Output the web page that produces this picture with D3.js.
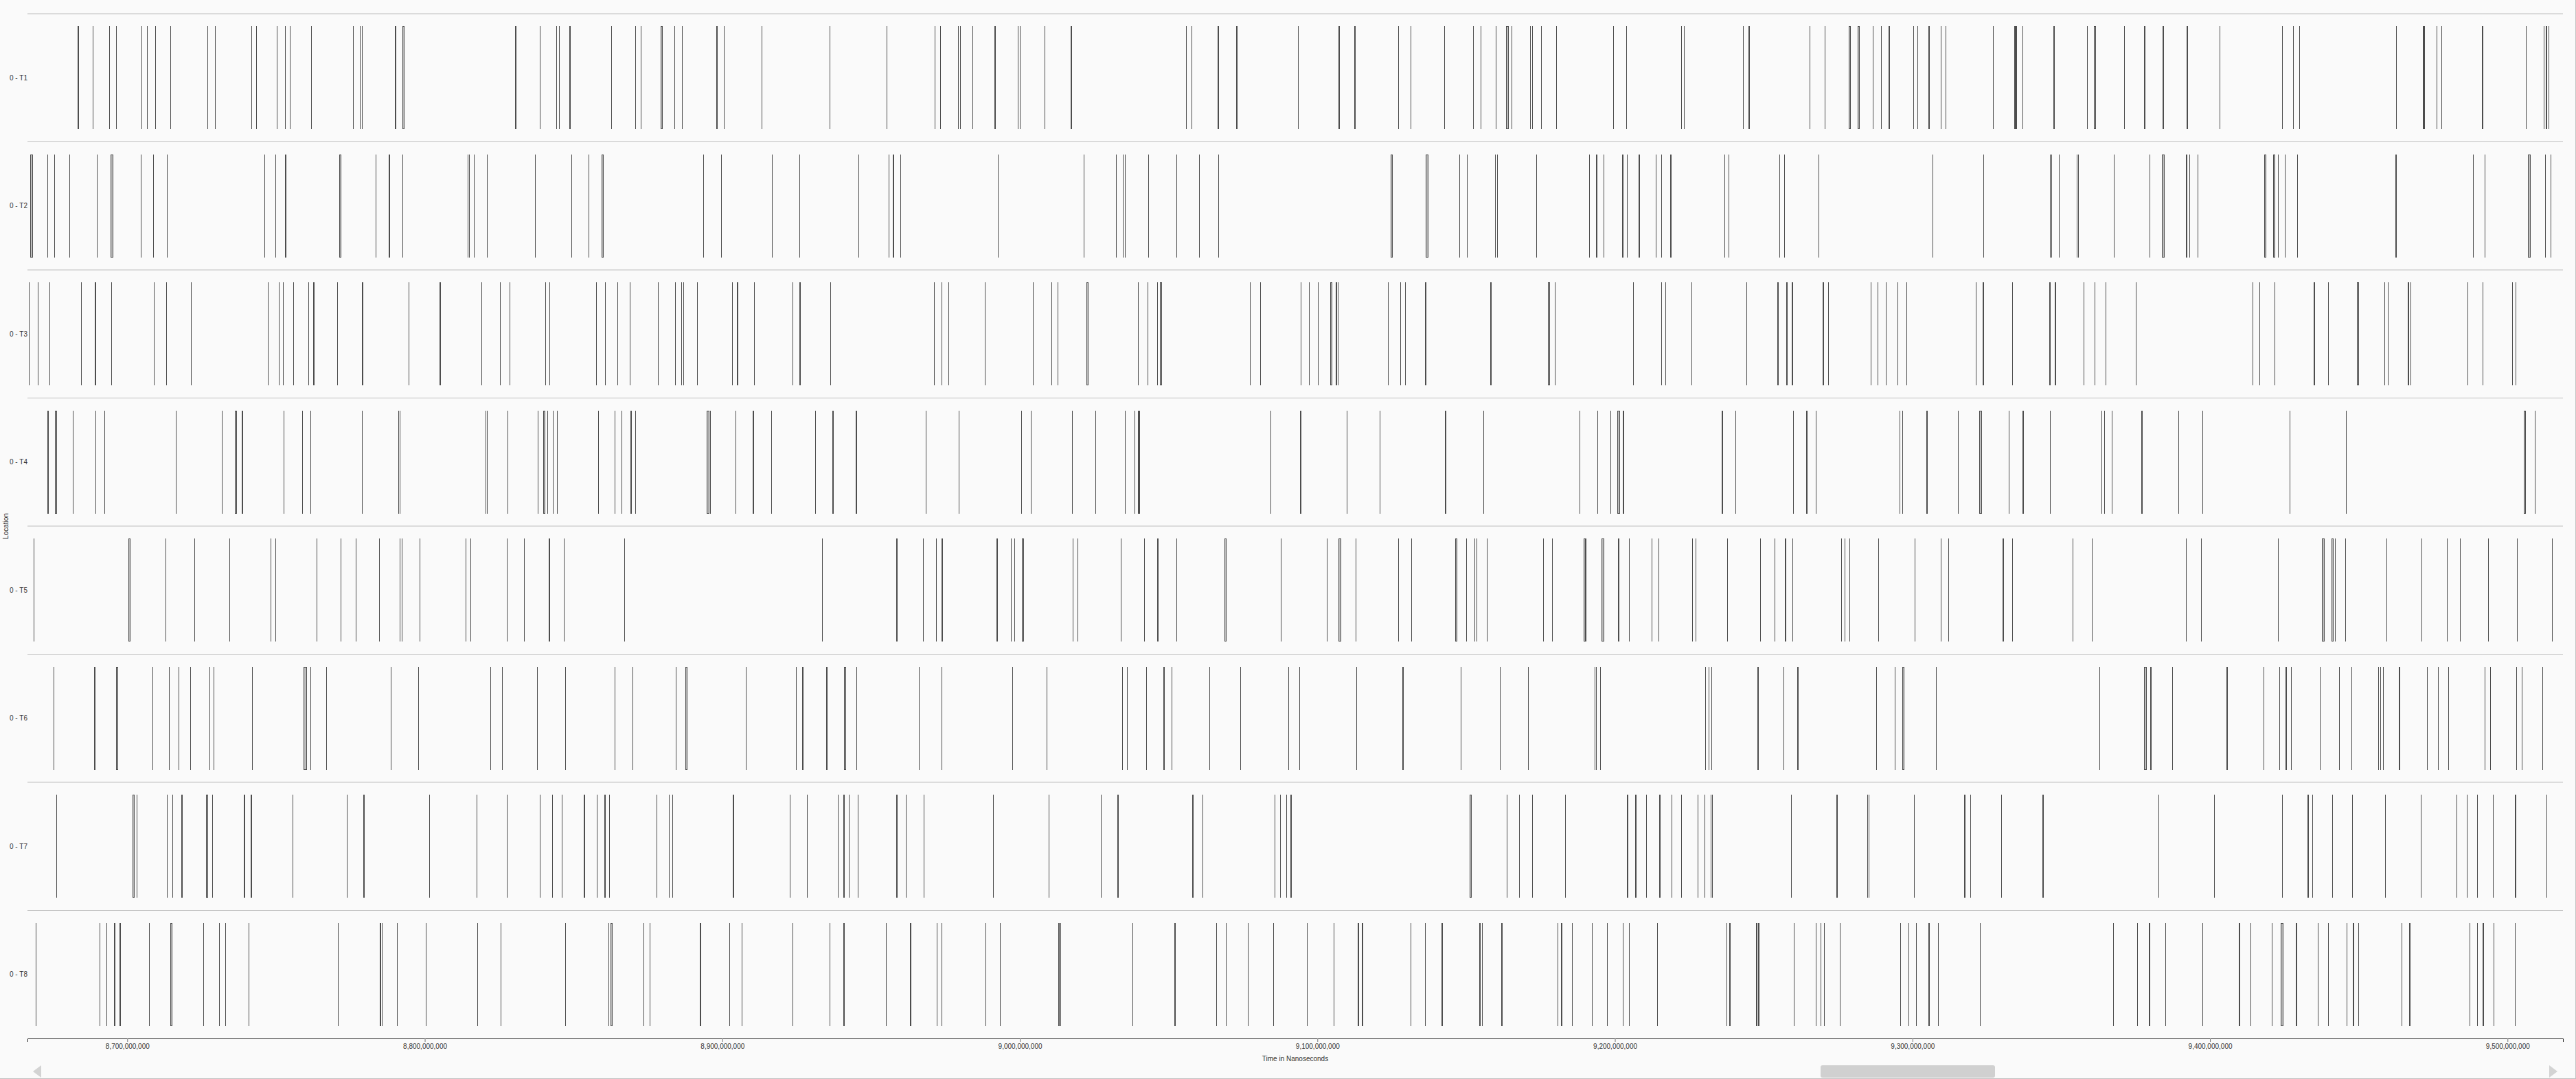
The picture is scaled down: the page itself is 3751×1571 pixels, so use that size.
<!DOCTYPE html>
<html>
<head>
<meta charset="utf-8">
<script src="https://cdn.jsdelivr.net/npm/d3@7"></script>
<style>
  html, body { margin: 0; padding: 0; background: #fafafa; }
  svg { display: block; }
  text { font-family: "Liberation Sans", Arial, sans-serif; }
</style>
</head>
<body>
<svg id="chart" width="3751" height="1571"></svg>
<script>
// Times are in millions of nanoseconds. An entry is either a start time,
// or [start, duration] for events with a visible duration.
const rowLabels = ["0 - T1", "0 - T2", "0 - T3", "0 - T4", "0 - T5", "0 - T6", "0 - T7", "0 - T8"];
const xDomain = [8666.46, 9518.63];
const tickValues = [8700, 8800, 8900, 9000, 9100, 9200, 9300, 9400, 9500];
const yTitle = "Location";
const xTitle = "Time in Nanoseconds";

const t1 = [[8683.4,0.25], 8688.5, 8694.0, 8696.4, 8704.9, 8706.7, 8709.5, 8714.5, 8727.0, 8729.6, 8741.9, 8743.4, 8750.4, 8753.1, 8754.8, 8762.0, 8776.0, 8778.3, 8779.0, [8790.1,0.25], [8792.7,0.25], [8830.5,0.25], 8838.8, 8844.3, 8845.3, [8848.7,0.25], 8862.8, 8870.9, 8872.6, [8879.5,0.25],
  8884.0, 8886.5, [8898.1,0.25], 8900.6, 8913.3, 8936.2, 8955.3, 8971.5, 8973.4, 8979.4, 8980.0, 8984.2, [8991.5,0.4], 8999.3, 9000.1, 9008.4, [9017.1,0.25], 9055.9, 9057.9, [9066.5,0.25], [9072.9,0.25], 9093.6,
  [9107.1,0.4], [9112.6,0.25], 9127.3, 9131.5, 9142.7, 9152.5, 9154.9, 9160.1, [9163.5,0.8], 9165.3, 9171.6, 9172.2, 9175.3, 9180.4, 9199.5, 9203.9, 9222.4, 9223.4, 9243.2, [9244.9,0.25], 9265.5, 9270.6, [9278.8,0.25], [9281.8,0.25], 9286.8, 9289.6, [9292.0,0.25], 9300.4, 9301.8, [9305.4,0.25], 9309.6,
  9311.2, 9327.1, [9334.4,0.25], 9334.9, 9337.2, [9347.4,0.25], 9358.9, [9361.2,0.25], 9371.2, [9377.9,0.25], [9384.1,0.25], [9392.3,0.25], 9403.4, 9424.3, 9428.0, 9430.2, 9462.6, [9471.7,0.25], 9472.2, 9476.3, 9477.8, 9491.4, 9491.8, 9506.3, 9512.2, [9513.0,0.25], 9514.0];

const t2 = [[8667.6,0.6], 8673.3, 8675.5, 8680.7, 8689.9, [8694.4,0.9], 8704.7, 8708.9, 8713.4, 8746.1, 8749.8, [8753.1,0.25], [8771.4,0.5], 8783.5, [8788.0,0.25], 8792.7, 8814.6, 8815.0, 8816.6, 8821.0, 8837.2, 8849.4, 8855.1, [8859.6,0.5],
  8893.7, 8899.7, 8916.7, 8926.0, 8945.9, 8956.0, [8957.4,0.25], 8960.0, 8992.7, 9021.6, 9032.4, 9034.7, 9035.5, 9043.2, 9052.8, 9060.3, 9066.8,
  [9124.8,0.5], [9136.6,0.5], 9147.8, 9150.4, 9159.9, 9160.5, 9173.7, 9191.5, [9193.7,0.25], 9196.3, [9202.6,0.25], 9204.1, [9208.0,0.25], 9213.8, 9215.7, [9218.7,0.25], 9236.9, 9238.3, 9255.4, 9257.1, 9268.5, 9306.9,
  9324.0, 9346.4, 9346.8, 9349.3, 9355.3, 9355.9, 9367.8, 9379.8, [9383.9,0.7], [9392.0,0.25], 9393.2, 9396.0, [9418.4,0.4], [9421.4,0.5], 9423.0, 9425.3, 9429.4, [9462.4,0.25], 9488.5, 9492.5, [9507.0,0.7], 9512.8, 9514.5];

const t3 = [8667.0, 8670.0, 8674.0, 8684.5, [8689.2,0.25], 8694.7, 8709.0, 8713.3, 8721.4, 8747.4, 8751.1, 8752.4, 8756.0, 8760.9, [8762.6,0.25], 8770.6, [8778.9,0.25], 8794.6, [8805.0,0.4], 8819.1, 8825.4, 8828.6, 8840.5, 8842.1, 8857.7, 8860.7, 8864.8, 8869.1, 8878.4,
  8884.3, 8886.3, 8887.1, 8891.7, 8903.4, [8904.9,0.25], 8910.7, 8923.6, [8925.9,0.25], 8936.4, 8971.3, 8973.9, 8976.1, 8988.3, 9004.5, 9010.8, 9012.8, [9022.5,0.5], 9039.8, 9043.1, 9046.2, [9047.3,0.25], 9077.4, 9080.9, 9094.6,
  9097.3, 9100.3, [9104.4,0.4], [9106.2,0.25], 9106.9, 9123.8, 9128.0, 9129.6, [9136.2,0.25], [9158.3,0.25], [9177.7,0.25], 9179.8, 9206.3, 9215.7, 9217.1, 9225.8, 9244.3, [9254.6,0.25], [9257.6,0.25], [9259.6,0.25], [9270.0,0.25], 9271.7, 9286.1, 9288.4, 9291.1, 9295.1, 9298.1,
  9321.4, [9323.8,0.25], 9333.6, [9346.0,0.25], [9347.9,0.25], 9357.6, 9361.3, 9365.0, 9375.2, 9414.5, 9416.7, 9421.9, [9434.9,0.25], 9439.8, [9449.6,0.25], 9458.7, 9459.9, [9466.5,0.25], 9467.6, 9486.6, 9491.7, 9501.7, 9502.9];

const t4 = [[8673.2,0.25], [8675.9,0.4], 8681.8, 8689.5, 8692.5, 8716.4, 8731.9, [8736.3,0.5], [8738.5,0.25], 8752.7, 8758.9, 8761.7, 8779.0, 8791.2, 8791.7, 8820.5, 8821.0, 8828.0, 8838.1, [8840.0,0.4], 8841.3, 8843.1, 8844.6, 8858.4, 8864.0, 8866.2, [8869.3,0.25], 8870.9,
  [8894.8,0.8], 8896.0, 8904.5, [8910.3,0.25], 8916.6, 8931.4, [8937.0,0.25], [8944.9,0.25], 8968.5, 8979.6, 9000.6, 9003.8, 9017.6, 9025.6, 9035.4, 9038.6, [9039.7,0.25], 9040.3, 9084.3, [9094.3,0.25],
  9110.0, 9121.0, [9143.0,0.25], 9155.9, 9188.2, 9194.2, 9198.6, [9200.8,0.8], [9202.8,0.25], [9236.0,0.25], 9240.6, 9260.1, [9264.4,0.25], 9267.6, 9295.8, 9296.6, [9304.8,0.25],
  9315.5, [9322.6,0.7], 9332.5, [9337.1,0.25], 9346.3, 9363.7, 9364.5, 9367.1, [9377.1,0.25], 9389.5, 9397.6, 9426.9, 9445.8, [9505.6,0.5], 9509.3];

const t5 = [8668.7, [8700.4,0.5], 8713.0, 8722.7, 8734.4, 8748.3, 8750.0, 8763.8, 8771.9, 8776.9, 8784.7, 8791.7, 8792.4, 8798.3, 8813.9, 8815.5, 8827.7, 8833.5, [8841.7,0.4], 8846.8, 8867.2,
  8933.6, [8958.5,0.25], 8967.5, 8971.9, [8973.8,0.25], [8992.2,0.25], 8997.1, 8998.2, [9000.9,0.25], 9017.9, 9019.5, 9034.0, 9041.8, [9046.2,0.4], 9052.7, [9069.0,0.25], 9087.8,
  9103.3, [9107.1,0.8], 9112.9, 9127.3, 9131.6, [9146.4,0.4], 9150.1, 9152.9, 9153.6, 9157.0, 9176.0, 9179.0, [9189.7,0.25], 9190.2, [9195.6,0.6], [9201.2,0.25], 9204.8, 9212.4, 9214.8, 9226.1, 9227.3, 9237.9, 9249.0, 9253.8, [9257.3,0.25], 9259.8, 9276.2, 9277.3, 9279.0, 9288.7, 9300.9, 9309.6,
  9312.2, [9330.3,0.25], 9333.7, 9354.0, 9360.4, 9392.0, 9397.1, 9423.0, [9437.7,0.7], [9440.9,0.5], 9442.0, 9445.5, 9459.4, 9471.1, 9479.8, 9484.1, 9493.6, 9503.3, 9515.1];

const t6 = [8675.4, [8688.9,0.25], [8696.3,0.4], 8708.6, 8714.1, 8717.4, 8721.2, 8727.8, 8729.2, 8742.0, [8759.4,0.9], 8761.7, 8766.9, 8788.7, 8797.9, 8822.1, 8826.1, 8837.9, 8847.3, 8863.9, 8869.9,
  8884.4, [8887.8,0.25], 8908.0, 8924.8, [8927.0,0.25], [8935.1,0.25], [8941.1,0.4], 8945.2, 8966.1, 8973.9, 8997.5, 9009.1, 9034.6, 9036.1, 9042.5, [9048.3,0.25], 9051.2, 9063.7, 9074.2, 9090.3, 9094.0,
  9113.3, [9128.6,0.25], 9148.2, 9161.5, 9170.9, 9193.4, 9193.8, 9195.2, 9230.5, 9231.7, 9232.5, [9247.9,0.25], 9256.8, [9261.4,0.25], 9287.9, 9294.2, [9296.8,0.25], 9308.0,
  9363.0, [9377.9,0.8], [9380.0,0.25], 9387.5, [9405.6,0.25], 9418.2, 9423.5, [9425.4,0.25], 9427.3, 9437.1, 9443.5, 9447.7, 9456.6, 9457.3, 9458.3, [9463.6,0.25], 9473.1, 9476.8, 9480.2, 9492.5, 9494.3, 9503.0, 9505.0, 9511.8];

const t7 = [8676.3, [8701.9,0.4], 8703.2, 8713.4, 8715.2, [8718.2,0.25], [8726.7,0.25], 8728.6, [8739.2,0.25], [8741.5,0.25], 8755.6, 8773.9, [8779.5,0.25], 8801.6, 8817.6, 8827.7, 8838.7, 8842.9, 8846.2, [8853.5,0.25], 8858.0, [8860.4,0.25], 8862.1, 8878.0,
  8882.2, 8883.3, [8903.7,0.25], 8922.7, 8928.5, 8938.9, [8940.8,0.25], 8942.6, 8945.6, [8958.6,0.25], 8961.8, 8967.8, 8991.1, 9009.8, 9027.3, [9032.8,0.4], [9058.1,0.25], 9061.6, 9085.8, 9087.6, 9089.6, [9091.0,0.25],
  [9151.4,0.25], 9163.7, 9167.9, 9172.3, 9183.4, [9204.2,0.25], [9206.9,0.25], 9210.6, [9215.0,0.25], 9219.1, 9222.4, 9227.9, 9230.2, 9232.3, 9232.7, 9259.2, [9274.6,0.25], 9285.0, 9285.5, 9300.6,
  [9317.5,0.25], 9319.5, 9329.9, [9343.7,0.25], 9382.8, 9401.5, 9424.3, [9432.9,0.25], 9434.6, 9441.2, 9447.9, 9459.0, 9471.0, 9483.0, 9486.5, 9489.8, 9495.2, [9502.6,0.25], 9513.2];

const t8 = [8669.3, 8690.8, 8693.2, [8695.6,0.25], [8697.4,0.25], 8707.4, [8714.7,0.4], 8725.6, 8730.9, 8733.0, 8740.9, 8770.9, [8784.9,0.25], 8785.7, 8790.8, 8800.5, 8817.7, 8825.5, 8847.3, 8861.8, [8862.6,0.4], 8873.6, 8875.6,
  [8892.5,0.25], 8902.5, 8906.6, 8923.7, 8936.2, [8940.8,0.25], 8955.0, [8963.1,0.4], 8972.2, 8973.8, 8988.6, 8993.4, [9013.0,0.25], 9013.8, 9037.9, [9052.0,0.25], 9066.2, 9069.4, 9076.8, 9085.2,
  9096.6, 9105.5, [9113.6,0.25], [9115.1,0.25], 9131.4, 9136.3, [9141.9,0.25], [9154.6,0.25], 9155.5, [9162.0,0.25], 9180.8, [9182.0,0.25], 9185.7, 9192.3, 9197.5, 9202.8, 9204.9, 9214.3, 9237.5, [9238.6,0.25], [9247.5,0.25], [9248.2,0.25], 9260.3, 9267.7, 9269.2, 9270.3, 9275.7, 9295.9, 9298.8, 9301.3, [9305.5,0.25], 9308.8,
  9322.7, 9367.5, 9375.6, [9379.6,0.25], 9385.0, 9397.5, [9409.7,0.25], 9413.8, 9420.9, [9423.9,0.7], [9429.0,0.25], 9436.4, 9439.8, 9446.1, [9448.1,0.25], 9449.9, 9464.4, [9467.0,0.25], 9487.4, 9489.9, [9491.7,0.25], 9495.5, 9502.6];

const rowEvents = [t1, t2, t3, t4, t5, t6, t7, t8];

// ---------- drawing ----------
const W = 3751, H = 1571;
const plot = { left: 40, right: 3732, top: 20, bottom: 1512 };
const svg = d3.select("#chart");

const x = d3.scaleLinear().domain(xDomain).range([plot.left, plot.right]);
const y = d3.scaleBand().domain(rowLabels).range([plot.top, plot.bottom]).paddingInner(0).paddingOuter(0);

// frame lines (right and bottom)
svg.append("line").attr("x1", W - 0.5).attr("x2", W - 0.5).attr("y1", 0).attr("y2", H)
  .attr("stroke", "#c4c4c4").attr("stroke-width", 1);
svg.append("line").attr("x1", 0).attr("x2", W).attr("y1", H - 0.5).attr("y2", H - 0.5)
  .attr("stroke", "#c0c0c0").attr("stroke-width", 1);

// row separators
svg.append("g").selectAll("line").data(rowLabels).join("line")
  .attr("x1", plot.left).attr("x2", plot.right)
  .attr("y1", d => y(d)).attr("y2", d => y(d))
  .attr("stroke", "#bdbdbd").attr("stroke-width", 1);

// events
const events = [];
rowEvents.forEach((arr, i) => {
  arr.forEach(e => {
    const s = Array.isArray(e) ? e[0] : e;
    const dur = Array.isArray(e) ? e[1] : 0;
    events.push({ row: rowLabels[i], start: s, end: s + dur });
  });
});
const bw = y.bandwidth();
svg.append("g").attr("shape-rendering", "crispEdges")
  .selectAll("rect").data(events).join("rect")
  .attr("x", d => x(d.start))
  .attr("width", d => Math.max(0.01, x(d.end) - x(d.start)))
  .attr("y", d => y(d.row) + bw * 0.1)
  .attr("height", bw * 0.8)
  .attr("fill", "#bdbdbd")
  .attr("stroke", "#4d4d4d")
  .attr("stroke-width", 1);

// row labels
svg.append("g").selectAll("text").data(rowLabels).join("text")
  .attr("x", 14)
  .attr("y", d => y(d) + bw / 2)
  .attr("dy", "0.35em")
  .attr("font-size", 10)
  .attr("fill", "#333")
  .text(d => d);

// y title
svg.append("text")
  .attr("transform", `translate(12, ${(plot.top + plot.bottom) / 2}) rotate(-90)`)
  .attr("text-anchor", "middle")
  .attr("font-size", 10)
  .attr("fill", "#333")
  .text(yTitle);

// x axis
const fmt = d3.format(",");
const axis = d3.axisBottom(x).tickValues(tickValues)
  .tickFormat(d => fmt(Math.round(d * 1e6)))
  .tickSize(5).tickPadding(3);
const gx = svg.append("g").attr("transform", `translate(0, ${plot.bottom})`).call(axis);
gx.select(".domain").attr("stroke", "#222");
gx.selectAll(".tick line").attr("stroke", "#777");
gx.selectAll(".tick text").attr("font-size", 10).attr("fill", "#333")
  .attr("font-family", "'Liberation Sans', Arial, sans-serif");

// x title
svg.append("text")
  .attr("x", (plot.left + plot.right) / 2)
  .attr("y", 1545)
  .attr("text-anchor", "middle")
  .attr("font-size", 10)
  .attr("fill", "#333")
  .text(xTitle);

// scrollbar
const sb = svg.append("g");
sb.append("path").attr("d", "M60,1551 L48,1560 L60,1569 Z").attr("fill", "#d3d3d3");
sb.append("path").attr("d", "M3712,1551 L3724,1560 L3712,1569 Z").attr("fill", "#d3d3d3");
sb.append("rect").attr("x", 2651).attr("y", 1551).attr("width", 254).attr("height", 18)
  .attr("rx", 3).attr("fill", "#d0d0d0");
</script>
</body>
</html>
